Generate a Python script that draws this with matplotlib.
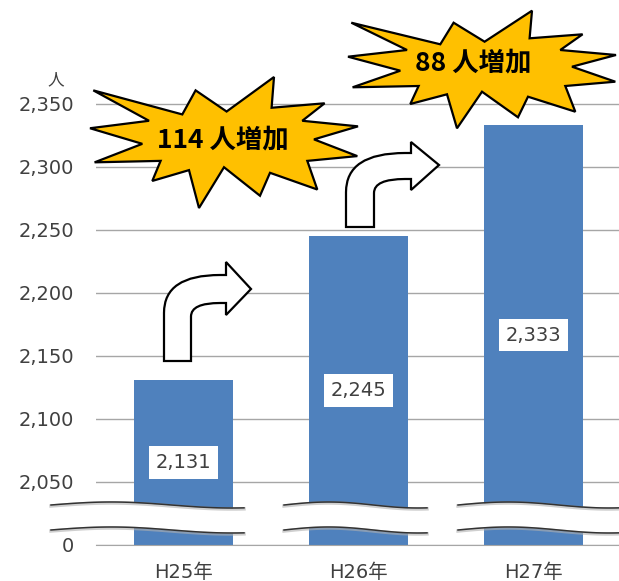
import numpy as np
import matplotlib.pyplot as plt
from matplotlib.path import Path
from matplotlib.patches import PathPatch, Polygon

plt.rcParams['font.family'] = ['DejaVu Sans', 'Noto Sans CJK JP']

# データ
years = ['H25年', 'H26年', 'H27年']
values = [2131, 2245, 2333]
ticks = [2000, 2050, 2100, 2150, 2200, 2250, 2300, 2350]
tick_labels = ['0', '2,050', '2,100', '2,150', '2,200', '2,250', '2,300', '2,350']
base = 2000  # 軸の省略: 0 を 2000 の位置に置く

bar_color = '#4F81BD'
grid_color = '#A6A6A6'
text_color = '#404040'

fig = plt.figure(figsize=(6.19, 5.81), dpi=100)
W, H = 619, 581
ax = fig.add_axes([96 / W, 36 / H, 525 / W, 479 / H])

x = np.arange(len(years))
ax.bar(x, np.array(values) - base, bottom=base, width=0.57, color=bar_color, zorder=2)

for xi, v in zip(x, values):
    ax.text(xi, (v + base) / 2, f'{v:,}', ha='center', va='center', fontsize=14,
            color=text_color, zorder=3,
            bbox=dict(boxstyle='square,pad=0.35', fc='white', ec='none'))

ax.set_xlim(-0.5, 2.5)
ax.set_ylim(base, 2380)
ax.set_yticks(ticks)
ax.set_yticklabels(tick_labels, fontsize=14, color=text_color)
ax.set_xticks(x)
ax.set_xticklabels(years, fontsize=14, color=text_color)
ax.tick_params(axis='y', length=0, pad=16)
ax.tick_params(axis='x', length=0, pad=13)
ax.grid(axis='y', color=grid_color, lw=1, zorder=1)
for s in ['top', 'right', 'left']:
    ax.spines[s].set_visible(False)
ax.spines['bottom'].set_color(grid_color)

fig.text(56 / W, 1 - 80 / H, '人', ha='center', va='center', fontsize=12,
         color=text_color, family=['Noto Sans CJK JP'])

# 装飾用のオーバーレイ (ピクセル座標)
ov = fig.add_axes([0, 0, 1, 1], zorder=5)
ov.set_xlim(0, W)
ov.set_ylim(H, 0)
ov.axis('off')
ov.patch.set_alpha(0)

# 省略の波線
for x0, x1 in [(51, 244), (284, 427), (458, 619)]:
    xs = np.linspace(x0, x1, 100)
    t = (xs - x0) / (x1 - x0)
    top = 505 - 3 * np.sin(np.pi * 1.6 * t)
    bot = top + 25
    ov.fill_between(xs, top, bot, color='white', lw=0)
    for yy in (top, bot):
        ov.plot(xs, yy + 1, color='#B0B0B0', lw=2.5, alpha=0.6)
        ov.plot(xs, yy, color='#333333', lw=1.1)

# 爆発形
star = np.array([
    (351, 22.7), (440, 44.3), (453.3, 22.7), (484.3, 41.7), (531.7, 10.7),
    (529.3, 38.3), (582.3, 34.3), (560, 50), (615.7, 55), (571.7, 66.7),
    (615, 81.7), (565, 86), (575, 111.7), (527.7, 96.7), (517.7, 117.3),
    (481.7, 91.7), (456.7, 128.3), (446.7, 94.3), (410, 104), (418.3, 86),
    (352.3, 87.3), (400, 70.7), (347.7, 56.7), (406.7, 50)])
sx0, sx1 = star[:, 0].min(), star[:, 0].max()
sy0, sy1 = star[:, 1].min(), star[:, 1].max()
norm = np.column_stack([(star[:, 0] - sx0) / (sx1 - sx0), (star[:, 1] - sy0) / (sy1 - sy0)])


def burst(x0, x1, y0, y1, label, cx, cy):
    pts = np.column_stack([x0 + norm[:, 0] * (x1 - x0), y0 + norm[:, 1] * (y1 - y0)])
    ov.add_patch(Polygon(pts, closed=True, fc='#FFC000', ec='black', lw=1.6, zorder=4))
    ov.text(cx, cy, label, ha='center', va='center', fontsize=19, fontweight='bold',
            color='black', family=['Noto Sans CJK JP'], zorder=5)


diffs = np.diff(values)
burst(90, 358, 77, 208, f'{diffs[0]} 人増加', 223, 140)
burst(348, 616, 10.7, 128.3, f'{diffs[1]} 人増加', 473, 63)


# 曲がり矢印
def bent_arrow(bl, br, yb, inner_y, outer_y, hx, tip, head_top, head_bot):
    verts = [
        (bl, yb), (br, yb), (br, inner_y + (br - bl) * 0.5),
        (br, inner_y), (hx - 6, inner_y),
        (hx, inner_y), (hx, head_bot), tip, (hx, head_top), (hx, outer_y),
        (hx - 6, outer_y),
        (bl, outer_y), (bl, outer_y + (br - bl) * 1.4),
        (bl, yb)]
    codes = [Path.MOVETO, Path.LINETO, Path.LINETO,
             Path.CURVE3, Path.CURVE3,
             Path.LINETO, Path.LINETO, Path.LINETO, Path.LINETO, Path.LINETO,
             Path.LINETO,
             Path.CURVE3, Path.CURVE3,
             Path.CLOSEPOLY]
    ov.add_patch(PathPatch(Path(verts, codes), fc='white', ec='black', lw=1.6, zorder=3))


bent_arrow(164, 191, 361, 303, 275, 226, (251, 289), 262, 315)
bent_arrow(346, 374, 227, 179, 153, 411, (439, 165), 142, 190)

fig.savefig('out.png', dpi=100)
